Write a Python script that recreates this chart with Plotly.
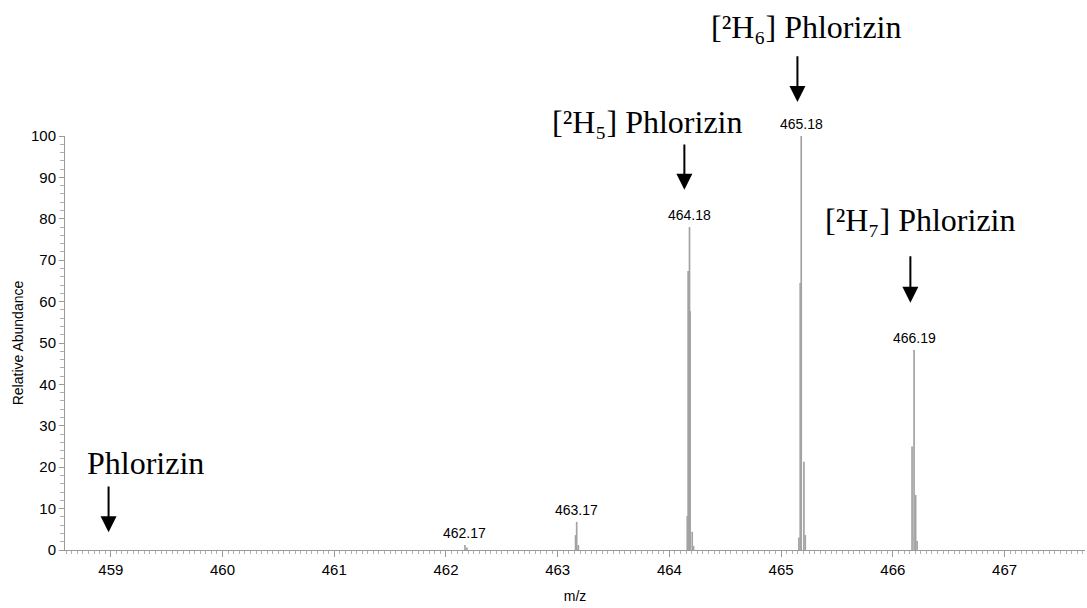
import plotly.graph_objects as go

# Centroid sticks of the isotope clusters (m/z, relative abundance %)
peak_mz = [462.17, 462.188,
           463.16, 463.17, 463.185,
           464.16, 464.168, 464.18, 464.186, 464.204, 464.216,
           465.159, 465.171, 465.18, 465.204, 465.216,
           466.172, 466.19, 466.204, 466.217]
peak_abundance = [1.2, 0.6,
                  3.6, 6.8, 1.2,
                  8.2, 67.4, 78.0, 57.7, 4.4, 1.0,
                  3.0, 64.5, 100.0, 21.3, 3.6,
                  25.0, 48.3, 13.3, 2.2]

# Labelled apex of each cluster
label_mz = [462.17, 463.17, 464.18, 465.18, 466.19]
label_abundance = [1.2, 6.8, 78.0, 100.0, 48.3]
label_text = ["462.17", "463.17", "464.18", "465.18", "466.19"]

# Species annotations: text, arrow x, arrow tip / tail level (abundance units),
# text centre x and y
species_text = ["Phlorizin",
                "[²H₅] Phlorizin",
                "[²H₆] Phlorizin",
                "[²H₇] Phlorizin"]
arrow_x = [458.98, 464.134, 465.146, 466.157]
arrow_tip_y = [4.3, 87.0, 108.2, 59.7]
arrow_tail_y = [15.7, 98.3, 119.6, 71.3]
species_x = [459.31, 463.80, 465.226, 466.25]
species_y = [21.0, 103.4, 126.3, 79.7]

x_ticks = [459, 460, 461, 462, 463, 464, 465, 466, 467]
y_ticks = [0, 10, 20, 30, 40, 50, 60, 70, 80, 90, 100]

Y_MAX = 100.0
PLOT_H = 608 - 136 - 58  # pixel height of the plotting area

sans = "Liberation Sans, Arial"
serif = "Liberation Serif, Times New Roman, serif"

# Build stick segments
xs, ys = [], []
for m, a in zip(peak_mz, peak_abundance):
    xs += [m, m, None]
    ys += [0, a, None]

fig = go.Figure()
fig.add_trace(go.Scatter(x=xs, y=ys, mode="lines",
                         line=dict(color="#a3a3a3", width=1.7),
                         hoverinfo="skip", showlegend=False, cliponaxis=False))

annotations = []
for m, a, t in zip(label_mz, label_abundance, label_text):
    annotations.append(dict(x=m, y=a / Y_MAX, yref="paper", text=t,
                            showarrow=False, xanchor="center",
                            yanchor="bottom", yshift=2,
                            font=dict(family=sans, size=14, color="black")))

for t, ax_, tip, tail, tx, ty in zip(species_text, arrow_x, arrow_tip_y,
                                     arrow_tail_y, species_x, species_y):
    annotations.append(dict(x=ax_, y=tip / Y_MAX, xref="x", yref="paper",
                            ax=0, ay=-(tail - tip) / Y_MAX * PLOT_H,
                            axref="pixel", ayref="pixel", text="",
                            showarrow=True, arrowhead=2, arrowsize=1.6,
                            arrowwidth=2, arrowcolor="black"))
    annotations.append(dict(x=tx, y=ty / Y_MAX, xref="x", yref="paper",
                            text=t, showarrow=False,
                            xanchor="center", yanchor="middle",
                            font=dict(family=serif, size=32, color="black")))

fig.update_layout(
    width=1087, height=608,
    margin=dict(l=65, r=2, t=136, b=58),
    paper_bgcolor="white", plot_bgcolor="white",
    annotations=annotations,
    xaxis=dict(range=[458.59, 467.72], tickvals=x_ticks,
               ticktext=[str(v) for v in x_ticks],
               showgrid=False, zeroline=False, showline=True,
               linecolor="#9a9a9a", linewidth=1,
               ticks="outside", ticklen=6, tickcolor="#9a9a9a",
               minor=dict(dtick=0.05, tick0=459, ticks="outside", ticklen=3,
                          tickcolor="#b0b0b0", showgrid=False),
               tickfont=dict(family=sans, size=15, color="black"),
               title=dict(text="m/z", font=dict(family=sans, size=14, color="black"),
                          standoff=14)),
    yaxis=dict(range=[0, Y_MAX], tickvals=y_ticks,
               showgrid=False, zeroline=False, showline=True,
               linecolor="#9a9a9a", linewidth=1,
               ticks="outside", ticklen=5, tickcolor="#9a9a9a",
               minor=dict(dtick=2, ticks="outside", ticklen=4,
                          tickcolor="#b0b0b0", showgrid=False),
               tickfont=dict(family=sans, size=15, color="black"),
               title=dict(text="Relative Abundance",
                          font=dict(family=sans, size=14, color="black"),
                          standoff=4)),
)

fig.write_html("out.html")
